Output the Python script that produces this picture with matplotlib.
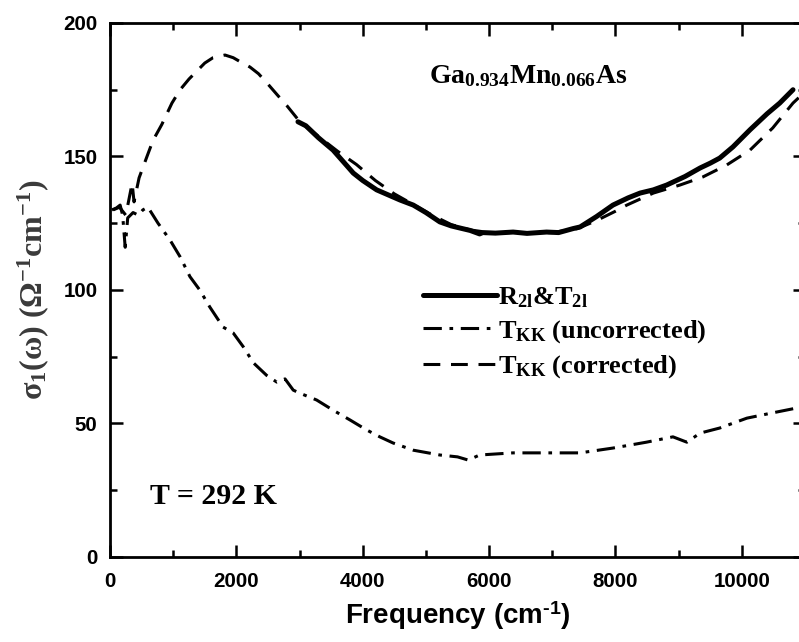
import matplotlib
matplotlib.use("Agg")
import matplotlib.pyplot as plt
from matplotlib.ticker import MultipleLocator

plt.rcParams['mathtext.fontset'] = 'custom'
plt.rcParams['mathtext.rm'] = 'Liberation Serif:bold'
plt.rcParams['mathtext.it'] = 'Liberation Serif:bold'
plt.rcParams['mathtext.bf'] = 'Liberation Serif:bold'
plt.rcParams['mathtext.sf'] = 'Liberation Sans:bold'

# R_2l & T_2l (solid)
freq_rt = [2975, 3100, 3300, 3530, 3750, 3850, 4000, 4220, 4590, 4800, 5000, 5220,
           5400, 5540, 5700, 5850, 5900, 6100, 6380, 6600, 6910, 7100, 7330, 7440,
           7700, 7960, 8200, 8390, 8600, 8810, 9100, 9340, 9500, 9650, 9860, 10130,
           10400, 10600, 10810]
sigma_rt = [163, 161.5, 157, 152.4, 146.5, 143.8, 141, 137.5, 133.7, 131.8, 129, 125.5,
            124, 123.2, 122.3, 121, 121.5, 121.3, 121.7, 121.2, 121.7, 121.5, 123, 123.6,
            127.5, 131.8, 134.5, 136.3, 137.5, 139.3, 142.5, 145.7, 147.5, 149.4, 153.6, 160,
            166, 170, 175]

# T_KK uncorrected (dash-dot)
freq_unc = [30, 100, 160, 200, 240, 280, 365, 450, 520, 600, 680, 760, 950, 1110,
            1265, 1420, 1580, 1790, 1950, 2110, 2270, 2480, 2640, 2770, 2900, 3000,
            3270, 3530, 3800, 4060, 4270, 4480, 4800, 5220, 5500, 5670, 5850, 6380,
            6910, 7440, 7960, 8490, 8910, 9130, 9340, 9650, 10080, 10490, 10870]
sigma_unc = [130, 130.7, 131.8, 128, 116, 127, 129, 128, 130, 131, 128, 125, 118.7, 112.4,
             105, 100, 93.6, 86.1, 83.9, 78.7, 72.7, 68, 65.5, 66.7, 62.5, 61.4,
             58.8, 55, 51.3, 47.6, 45, 42.7, 40, 38.2, 37.5, 36.3, 38.2, 39,
             39, 39, 40.8, 43, 45, 43, 46.4, 48.3, 52, 54, 55.8]

# T_KK corrected (dashed)
freq_cor = [50, 150, 250, 300, 350, 380, 460, 585, 680, 820, 980, 1110, 1250, 1375,
            1500, 1630, 1820, 1950, 2060, 2215, 2350, 2485, 2650, 2800, 3005, 3300,
            3600, 3900, 4200, 4500, 4800, 5100, 5400, 5700, 6000, 6500, 7000, 7400,
            7700, 8000, 8180, 8600, 9020, 9380, 9760, 10130, 10490, 10810, 10900]
sigma_cor = [130, 131, 128, 134, 140, 133, 142, 150, 156, 162, 170, 175, 179, 182,
             185, 187, 188, 187, 185.5, 183.5, 181, 177.5, 173, 169, 163, 157.5,
             152, 147, 141, 136, 132, 128, 124.5, 122.5, 121.5, 121.5, 121.5, 123,
             126, 129.5, 131.8, 136.3, 139.3, 142.3, 146.8, 152.4, 160.7, 170, 172]

x_ticks = [0, 2000, 4000, 6000, 8000, 10000]
y_ticks = [0, 50, 100, 150, 200]

fig = plt.figure(figsize=(7.99, 6.42), dpi=100)
ax = fig.add_axes([0.1377, 0.1324, 0.8698, 0.8318])

ax.plot(freq_rt, sigma_rt, color='black', lw=3.6, solid_capstyle='round',
        label=r'R$_{2l}$&T$_{2l}$', zorder=3)
ax.plot(freq_unc, sigma_unc, color='black', lw=2.2, dashes=(6, 2.5, 1.2, 2.5),
        label=r'T$_{KK}$ (uncorrected)')
ax.plot(freq_cor, sigma_cor, color='black', lw=2.2, dashes=(5.5, 3.5),
        label=r'T$_{KK}$ (corrected)')

ax.set_xlim(0, 11000)
ax.set_ylim(0, 200)
ax.set_xticks(x_ticks)
ax.set_yticks(y_ticks)
ax.xaxis.set_minor_locator(MultipleLocator(1000))
ax.yaxis.set_minor_locator(MultipleLocator(25))
ax.tick_params(which='both', direction='in', top=True, right=True, width=1.8)
ax.tick_params(which='major', length=9)
ax.tick_params(which='minor', length=5)
ax.tick_params(axis='x', pad=11)
ax.tick_params(axis='y', pad=9)
for lab in ax.get_xticklabels() + ax.get_yticklabels():
    lab.set_fontfamily('Liberation Sans')
    lab.set_fontweight('bold')
    lab.set_fontsize(14.8)
for sp in ax.spines.values():
    sp.set_linewidth(2)

ax.set_xlabel(r'Frequency (cm$^{\mathsf{\text{-}1}}$)', fontfamily='Liberation Sans',
              fontweight='bold', fontsize=20, labelpad=6)
ax.set_ylabel(r'$\sigma_1(\omega)$ ($\Omega^{-1}$cm$^{-1}$)', fontfamily='Liberation Serif',
              fontweight='bold', fontsize=23, color='#3a3a3a', labelpad=9)

ax.text(5050, 180, r'Ga$_{0.934}$Mn$_{0.066}$As', fontfamily='Liberation Serif',
        fontweight='bold', fontsize=20, va='center', ha='left')
ax.text(640, 22.5, 'T = 292 K', fontfamily='Liberation Serif', fontweight='bold',
        fontsize=21.5, va='center', ha='left')

leg = ax.legend(loc='upper left', bbox_to_anchor=(423 / 799, 1 - 285 / 642),
                bbox_transform=fig.transFigure, frameon=False, borderpad=0,
                borderaxespad=0, handlelength=2.8, handletextpad=0.05,
                labelspacing=0.32,
                prop={'family': 'Liberation Serif', 'weight': 'bold', 'size': 19})

fig.savefig('out.png', dpi=100)
